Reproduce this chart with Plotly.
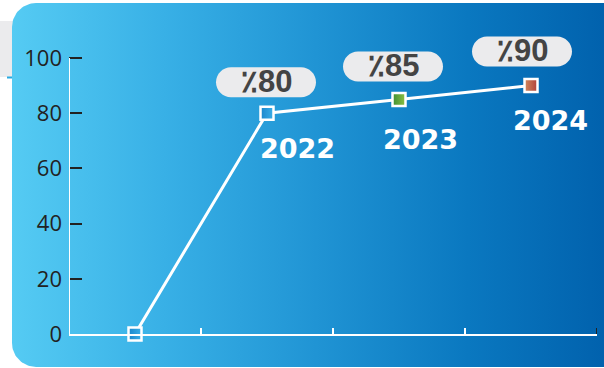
import numpy as np
import plotly.graph_objects as go

# ---- data ----
YEARS = ["", "2022", "2023", "2024"]
VALUES = [0, 80, 85, 90]
Y_TICKS = [0, 20, 40, 60, 80, 100]
Y_MAX = 100
PCT_PREFIX = "\u066a"  # Arabic percent sign

# ---- styling ----
W, H = 604, 368
MARKER_FILL = ["#1a86cc", "#1a86cc", "#3d8f35", "#d08a5e"]
MARKER_SHADE = ["#3aaee8", "#3aaee8", "#8cc043", "#b0403a"]
# pixel offsets (dx, dy) of the value pills and year labels relative to each point
PILL_SHIFT = [None, (-1, 31), (-6, 33), (-9, 34)]
YEAR_SHIFT = [None, (30, -35), (21, -40), (19, -35)]

# plot area in pixels (value axis spans PX_T..PX_B)
PX_L, PX_R, PX_T, PX_B = 69, 597, 58, 334
# the data subplot reaches the top of the figure so the pills are not clipped
Y_TOP = Y_MAX * PX_B / (PX_B - PX_T)
X_RANGE = [-0.5, len(VALUES) - 0.5]

fig = go.Figure()


def rounded_panel(x0, y0, x1, y1, r, n=24):
    """Outline of a panel with rounded left corners (pixel coordinates)."""
    xs, ys = [], []
    for a in np.linspace(np.pi, 1.5 * np.pi, n):          # top-left corner
        xs.append(x0 + r + r * np.cos(a)); ys.append(y0 + r + r * np.sin(a))
    xs += [x1, x1]; ys += [y0, y1]
    for a in np.linspace(0.5 * np.pi, np.pi, n):          # bottom-left corner
        xs.append(x0 + r + r * np.cos(a)); ys.append(y1 - r + r * np.sin(a))
    xs.append(xs[0]); ys.append(ys[0])
    return xs, ys


# background panel with a horizontal blue gradient
px, py = rounded_panel(12, 3, 620, 367, 24)
fig.add_trace(go.Scatter(
    x=px, y=py, mode="lines", fill="toself", line=dict(width=0),
    fillgradient=dict(type="horizontal",
                      colorscale=[[0, "#55cbf3"], [0.25, "#38b0e6"],
                                  [0.5, "#2094d4"], [0.75, "#0a78c0"],
                                  [1, "#005fab"]]),
    hoverinfo="skip", showlegend=False, xaxis="x", yaxis="y"))

# main series
fig.add_trace(go.Scatter(
    x=list(range(len(VALUES))), y=VALUES, mode="lines+markers",
    line=dict(color="white", width=3),
    marker=dict(symbol="square", size=13, color=MARKER_FILL,
                gradient=dict(type="horizontal", color=MARKER_SHADE),
                line=dict(color="white", width=2.5)),
    cliponaxis=False, hoverinfo="skip", showlegend=False,
    xaxis="x2", yaxis="y2"))

shapes = [
    dict(type="rect", xref="paper", yref="paper", x0=0, x1=40 / W,
         y0=1 - 77 / H, y1=1 - 21 / H, fillcolor="#ebebed",
         line=dict(width=0), layer="below"),
    dict(type="line", xref="paper", yref="paper", x0=7 / W, x1=14 / W,
         y0=1 - 77.5 / H, y1=1 - 77.5 / H,
         line=dict(color="#29a9e0", width=2), layer="below"),
    # value axis line, from 0 to the top tick
    dict(type="line", xref="x2", yref="y2", x0=X_RANGE[0], x1=X_RANGE[0],
         y0=0, y1=Y_MAX, line=dict(color="white", width=2), layer="above"),
    # dark end tick of the category axis
    dict(type="line", xref="x2", yref="y2", x0=X_RANGE[1], x1=X_RANGE[1],
         ysizemode="pixel", yanchor=0, y0=0, y1=6,
         line=dict(color="#222222", width=2), layer="above"),
]

annotations = []
pw, ph = 100, 30
r = ph / 2
k = 0.5523 * r
for i, (yr, v) in enumerate(zip(YEARS, VALUES)):
    if PILL_SHIFT[i] is not None:
        dx, dy = PILL_SHIFT[i]
        l, rr, b, t = dx - pw / 2, dx + pw / 2, dy - ph / 2, dy + ph / 2
        path = (f"M{l + r},{b} L{rr - r},{b} "
                f"C{rr - r + k},{b} {rr},{dy - k} {rr},{dy} "
                f"C{rr},{dy + k} {rr - r + k},{t} {rr - r},{t} "
                f"L{l + r},{t} "
                f"C{l + r - k},{t} {l},{dy + k} {l},{dy} "
                f"C{l},{dy - k} {l + r - k},{b} {l + r},{b} Z")
        shapes.append(dict(type="path", xref="x2", yref="y2",
                           xsizemode="pixel", ysizemode="pixel",
                           xanchor=i, yanchor=v, path=path,
                           fillcolor="#ebebed", line=dict(width=0),
                           layer="above"))
        annotations.append(dict(
            x=i, y=v, xref="x2", yref="y2", text=f"<b>{PCT_PREFIX}{v}</b>",
            showarrow=False, xshift=dx, yshift=dy + 1,
            font=dict(family="Liberation Sans", size=31, color="#444444")))
    if YEAR_SHIFT[i] is not None:
        dx, dy = YEAR_SHIFT[i]
        annotations.append(dict(
            x=i, y=v, xref="x2", yref="y2", text=f"<b>{yr}</b>",
            showarrow=False, xshift=dx, yshift=dy,
            font=dict(family="DejaVu Sans", size=27, color="white")))

fig.update_layout(
    width=W, height=H,
    margin=dict(l=0, r=0, t=0, b=0, pad=0, autoexpand=False),
    paper_bgcolor="white", plot_bgcolor="rgba(0,0,0,0)",
    showlegend=False,
    xaxis=dict(range=[0, W], domain=[0, 1], visible=False,
               fixedrange=True, automargin=False),
    yaxis=dict(range=[H, 0], domain=[0, 1], visible=False,
               fixedrange=True, automargin=False),
    xaxis2=dict(domain=[PX_L / W, PX_R / W], range=X_RANGE,
                anchor="y2", showgrid=False, zeroline=False, automargin=False,
                showline=True, linecolor="white", linewidth=2,
                tickvals=[i + 0.5 for i in range(len(VALUES) - 1)],
                ticktext=["" for _ in VALUES[:-1]],
                ticks="inside", ticklen=6, tickwidth=2, tickcolor="white"),
    yaxis2=dict(domain=[1 - PX_B / H, 1], range=[0, Y_TOP],
                anchor="x2", showgrid=False, zeroline=False, automargin=False,
                showline=False,
                tickvals=Y_TICKS, ticks="inside", ticklen=13, tickwidth=2,
                tickcolor="#222222", ticklabelstandoff=6,
                tickfont=dict(family="Open Sans", size=22, color="#222222")),
    shapes=shapes, annotations=annotations,
)

fig.write_html("out.html")
